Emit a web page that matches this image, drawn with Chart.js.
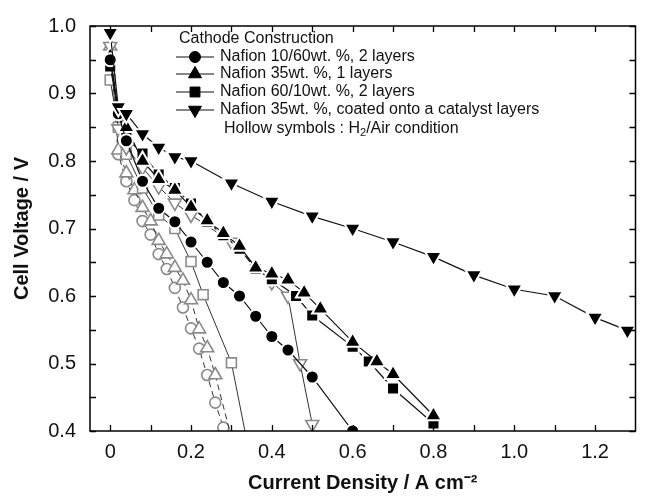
<!DOCTYPE html>
<html><head><meta charset="utf-8">
<script src="https://cdn.jsdelivr.net/npm/chart.js@4.4.1/dist/chart.umd.min.js"></script>
<style>html,body{margin:0;padding:0;background:#fff;}</style>
</head><body>
<canvas id="c" width="647" height="496"></canvas>
<script>
// ---- Tick labels ----
const xTickValues = [0,0.1,0.2,0.3,0.4,0.5,0.6,0.7,0.8,0.9,1.0,1.1,1.2];
const xTickLabels = ['0','','0.2','','0.4','','0.6','','0.8','','1.0','','1.2'];
const yTickValues = [0.4,0.45,0.5,0.55,0.6,0.65,0.7,0.75,0.8,0.85,0.9,0.95,1.0];
const yTickLabels = ['0.4','','0.5','','0.6','','0.7','','0.8','','0.9','','1.0'];
const xTitle = 'Current Density / A cm⁻²';
const yTitle = 'Cell Voltage / V';
const legendTitle = 'Cathode Construction';
const seriesNames = ['Nafion 10/60wt. %, 2 layers','Nafion 35wt. %, 1 layers','Nafion 60/10wt. %, 2 layers','Nafion 35wt. %, coated onto a catalyst layers'];

// ---- H2/O2 (filled symbols) ----
const n1060H2X = [0,0.02,0.04,0.08,0.12,0.16,0.2,0.24,0.28,0.32,0.36,0.4,0.44,0.5,0.6];
const n1060H2Y = [0.95,0.87,0.83,0.77,0.73,0.71,0.68,0.65,0.62,0.60,0.57,0.54,0.52,0.48,0.40];
const n35H2X = [0,0.02,0.04,0.08,0.12,0.16,0.2,0.24,0.28,0.32,0.36,0.4,0.44,0.48,0.52,0.6,0.66,0.7,0.8];
const n35H2Y = [0.955,0.875,0.85,0.80,0.773,0.757,0.732,0.712,0.693,0.674,0.642,0.633,0.624,0.605,0.581,0.532,0.503,0.484,0.423];
const n6010H2X = [0,0.02,0.04,0.08,0.12,0.16,0.2,0.24,0.28,0.32,0.36,0.4,0.46,0.5,0.6,0.64,0.7,0.8];
const n6010H2Y = [0.94,0.874,0.834,0.811,0.78,0.76,0.737,0.71,0.69,0.67,0.64,0.625,0.60,0.571,0.525,0.503,0.463,0.411];
const n35cH2X = [0,0.02,0.04,0.08,0.12,0.16,0.2,0.3,0.4,0.5,0.6,0.7,0.8,0.9,1.0,1.1,1.2,1.28];
const n35cH2Y = [0.99,0.88,0.87,0.84,0.82,0.806,0.80,0.767,0.74,0.718,0.70,0.68,0.658,0.631,0.61,0.60,0.568,0.549];

// ---- H2/Air (hollow symbols) ----
const n1060AirX = [0,0.02,0.04,0.06,0.08,0.1,0.12,0.14,0.16,0.18,0.2,0.22,0.24,0.26,0.28];
const n1060AirY = [0.95,0.81,0.77,0.742,0.711,0.691,0.662,0.64,0.612,0.583,0.552,0.522,0.483,0.442,0.405];
const n35AirX = [0,0.02,0.04,0.06,0.08,0.1,0.12,0.14,0.16,0.18,0.2,0.22,0.24,0.26,0.3];
const n35AirY = [0.97,0.816,0.782,0.757,0.731,0.711,0.682,0.662,0.642,0.623,0.594,0.551,0.523,0.483,0.39];
const n6010AirX = [0,0.02,0.04,0.08,0.12,0.16,0.2,0.23,0.3,0.35];
const n6010AirY = [0.92,0.85,0.81,0.76,0.72,0.70,0.651,0.602,0.501,0.35];
const n35cAirX = [0,0.02,0.04,0.08,0.12,0.16,0.2,0.3,0.4,0.44,0.47,0.5];
const n35cAirY = [0.97,0.848,0.82,0.79,0.762,0.738,0.72,0.68,0.62,0.60,0.50,0.41];

const pts = (xs, ys) => xs.map((x, i) => ({x: x, y: ys[i]}));
const GRAY = '#8a8a8a';
const FONT = '"Liberation Sans", Arial, sans-serif';

function filled(label, xs, ys, style, radius, rot) {
  return {label, data: pts(xs, ys), showLine: true, borderColor: '#111', borderWidth: 1.2,
    pointStyle: style, pointRotation: rot || 0, pointRadius: radius, pointHoverRadius: radius,
    pointBackgroundColor: '#000', pointBorderColor: '#fff', pointBorderWidth: 2, clip: 0, tension: 0};
}
function hollow(label, xs, ys, style, radius, rot, dash) {
  return {label, data: pts(xs, ys), showLine: true, borderColor: '#333', borderWidth: 1, borderDash: dash || [],
    pointStyle: style, pointRotation: rot || 0, pointRadius: radius, pointHoverRadius: radius,
    pointBackgroundColor: '#fff', pointBorderColor: GRAY, pointBorderWidth: 1.6, clip: 0, tension: 0};
}

const datasets = [
  filled(seriesNames[3], n35cH2X, n35cH2Y, 'triangle', 9.5, 180),
  filled(seriesNames[0], n1060H2X, n1060H2Y, 'circle', 6.5),
  filled(seriesNames[1], n35H2X, n35H2Y, 'triangle', 9.5),
  filled(seriesNames[2], n6010H2X, n6010H2Y, 'rect', 8.5),
  hollow(seriesNames[3] + ' (air)', n35cAirX, n35cAirY, 'triangle', 7.5, 180),
  hollow(seriesNames[2] + ' (air)', n6010AirX, n6010AirY, 'rect', 7),
  hollow(seriesNames[1] + ' (air)', n35AirX, n35AirY, 'triangle', 7.5, 0, [6,4]),
  hollow(seriesNames[0] + ' (air)', n1060AirX, n1060AirY, 'circle', 5.5, 0, [6,4])
];

function marker(ctx, style, x, y, r, rot, fill, stroke, lw) {
  ctx.save();
  ctx.translate(x, y); ctx.rotate((rot || 0) * Math.PI / 180);
  ctx.beginPath();
  if (style === 'circle') ctx.arc(0, 0, r, 0, Math.PI * 2);
  else if (style === 'rect') { const s = r * Math.SQRT1_2; ctx.rect(-s, -s, 2 * s, 2 * s); }
  else { ctx.moveTo(0, -r); ctx.lineTo(r * 0.866, r * 0.5); ctx.lineTo(-r * 0.866, r * 0.5); ctx.closePath(); }
  ctx.fillStyle = fill; ctx.fill();
  ctx.lineWidth = lw; ctx.strokeStyle = stroke; ctx.stroke();
  ctx.restore();
}

const framePlugin = {
  id: 'frame',
  afterDatasetsDraw(chart) {
    const {ctx, chartArea: a, scales} = chart;
    const xs = scales.x, ys = scales.y;
    ctx.save();
    ctx.strokeStyle = '#000'; ctx.lineWidth = 1.5;
    ctx.strokeRect(a.left, a.top, a.right - a.left, a.bottom - a.top);
    ctx.lineWidth = 1.3;
    ctx.beginPath();
    xTickValues.forEach(v => {
      const px = Math.round(xs.getPixelForValue(v)) + 0.5;
      ctx.moveTo(px, a.bottom); ctx.lineTo(px, a.bottom - 6);
      ctx.moveTo(px, a.top); ctx.lineTo(px, a.top + 6);
    });
    yTickValues.forEach(v => {
      const py = Math.round(ys.getPixelForValue(v)) + 0.5;
      ctx.moveTo(a.left, py); ctx.lineTo(a.left + 6, py);
      ctx.moveTo(a.right, py); ctx.lineTo(a.right - 6, py);
    });
    ctx.stroke();

    // legend
    const lx0 = 176, lx1 = 214, lmx = 195, tx = 220;
    ctx.fillStyle = '#111';
    ctx.font = '16px ' + FONT;
    ctx.textBaseline = 'middle'; ctx.textAlign = 'left';
    ctx.fillText(legendTitle, 179, 39);
    const rows = [57, 74, 92, 110];
    const st = [['circle',5.5,0],['triangle',7.5,0],['rect',7,0],['triangle',7.5,180]];
    rows.forEach((ry, i) => {
      ctx.beginPath(); ctx.lineWidth = 1.2; ctx.strokeStyle = '#111';
      ctx.moveTo(lx0, ry); ctx.lineTo(lx1, ry); ctx.stroke();
      marker(ctx, st[i][0], lmx, ry, st[i][1], st[i][2], '#000', '#000', 1);
      ctx.fillStyle = '#111';
      ctx.fillText(seriesNames[i], tx, ry);
    });
    let hx = 224; const hy = 129;
    const p1 = 'Hollow symbols : H';
    ctx.fillText(p1, hx, hy); hx += ctx.measureText(p1).width;
    ctx.font = '11px ' + FONT;
    ctx.fillText('2', hx, hy + 4); hx += ctx.measureText('2').width;
    ctx.font = '16px ' + FONT;
    ctx.fillText('/Air condition', hx, hy);
    ctx.restore();
  }
};

new Chart(document.getElementById('c'), {
  type: 'scatter',
  data: {datasets},
  options: {
    responsive: false, animation: false, devicePixelRatio: 1,
    layout: {padding: {top: 17, right: 2, left: 0, bottom: 0}},
    plugins: {legend: {display: false}, tooltip: {enabled: false}},
    scales: {
      x: {
        type: 'linear', min: -0.05, max: 1.3,
        afterBuildTicks: s => { s.ticks = xTickValues.map(v => ({value: v})); },
        afterFit: s => { s.height = 65; },
        grid: {display: false, drawTicks: false},
        border: {display: false},
        ticks: {autoSkip: false, maxRotation: 0, padding: 9, color: '#111',
          font: {size: 20, family: FONT},
          callback: (v, i) => xTickLabels[i]},
        title: {display: true, text: xTitle, color: '#111', padding: {top: 0, bottom: 1},
          font: {size: 20, weight: 'bold', family: FONT}}
      },
      y: {
        type: 'linear', min: 0.4, max: 1.0,
        afterBuildTicks: s => { s.ticks = yTickValues.map(v => ({value: v})); },
        afterFit: s => { s.width = 90; },
        grid: {display: false, drawTicks: false},
        border: {display: false},
        ticks: {autoSkip: false, padding: 14, color: '#111',
          font: {size: 20, family: FONT},
          callback: (v, i) => yTickLabels[i]},
        title: {display: true, text: yTitle, color: '#111', padding: {top: 10, bottom: 0},
          font: {size: 20, weight: 'bold', family: FONT}}
      }
    }
  },
  plugins: [framePlugin]
});
</script>
</body></html>
